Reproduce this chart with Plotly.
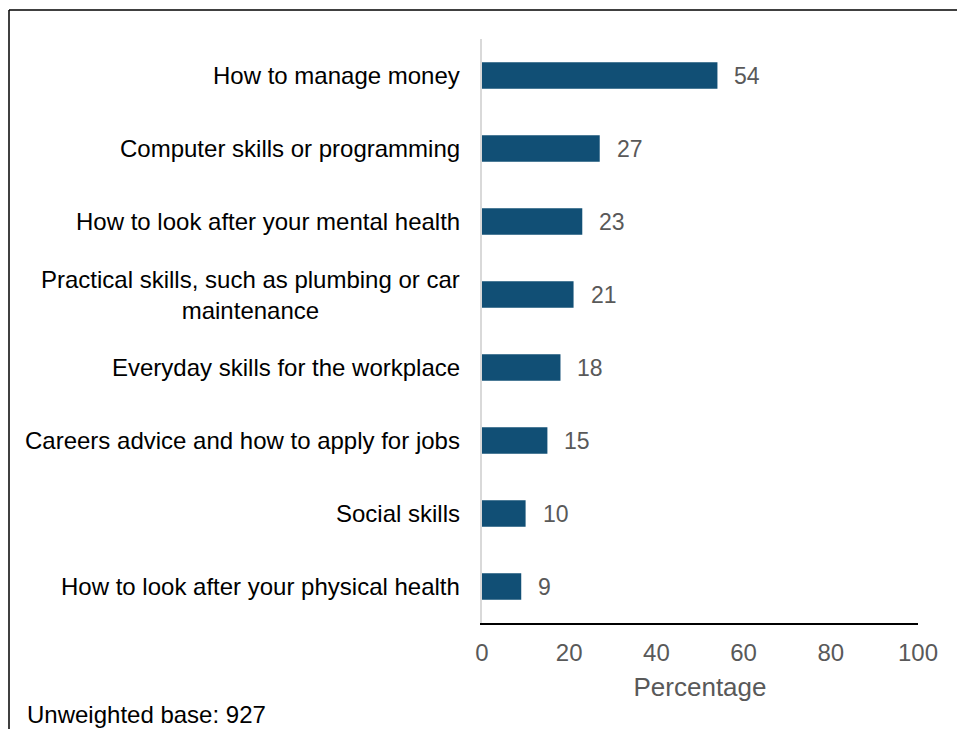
import plotly.graph_objects as go

# Survey results: skills respondents would like to learn more about
categories = [
    "How to manage money",
    "Computer skills or programming",
    "How to look after your mental health",
    "Practical skills, such as plumbing or car<br>maintenance",
    "Everyday skills for the workplace",
    "Careers advice and how to apply for jobs",
    "Social skills",
    "How to look after your physical health",
]
values = [54, 27, 23, 21, 18, 15, 10, 9]
x_ticks = [0, 20, 40, 60, 80, 100]
base_note = "Unweighted base: 927"

BAR = "#114f75"
GREY = "#595959"
FONT = "Liberation Sans, Arial, sans-serif"

# plot area in pixels
L, R, T, B = 482, 39, 39, 106
W, H = 957, 729
PW, PH = W - L - R, H - T - B

# reverse so the first category sits at the top
cats_r = categories[::-1]
vals_r = values[::-1]
pos = list(range(len(cats_r)))

fig = go.Figure(
    go.Bar(
        x=vals_r,
        y=pos,
        orientation="h",
        width=0.36,
        marker=dict(color=BAR, line=dict(width=0)),
        hoverinfo="skip",
    )
)

# category labels (centered multi-line text, right-aligned to the axis)
for p, c in zip(pos, cats_r):
    fig.add_annotation(
        x=0, xref="paper", y=p, yref="y",
        text=c, showarrow=False,
        xanchor="right", yanchor="middle", align="center",
        xshift=-20,
        font=dict(family=FONT, size=24, color="#000000"),
    )

# value labels at the bar ends
for p, v in zip(pos, vals_r):
    fig.add_annotation(
        x=v, xref="x", y=p, yref="y",
        text=str(v), showarrow=False,
        xanchor="left", yanchor="middle",
        xshift=15,
        font=dict(family=FONT, size=23, color=GREY),
    )

fig.update_layout(
    width=W,
    height=H,
    margin=dict(l=L, r=R, t=T, b=B),
    paper_bgcolor="white",
    plot_bgcolor="white",
    showlegend=False,
    bargap=0.64,
    xaxis=dict(
        range=[0, 100],
        tickvals=x_ticks,
        ticktext=[str(t) for t in x_ticks],
        showgrid=False,
        zeroline=False,
        showline=True,
        linecolor="#000000",
        linewidth=2,
        ticks="",
        ticklabelstandoff=7,
        tickfont=dict(family=FONT, size=24, color=GREY),
        title=dict(text="Percentage", font=dict(family=FONT, size=26, color=GREY), standoff=13),
        fixedrange=True,
    ),
    yaxis=dict(
        range=[-0.5, len(cats_r) - 0.5],
        showticklabels=False,
        showgrid=False,
        zeroline=False,
        showline=True,
        linecolor="#d9d9d9",
        linewidth=2,
        ticks="",
        fixedrange=True,
    ),
)

# footnote
fig.add_annotation(
    x=(25 - L) / PW, xref="paper",
    y=(H - B - 730) / PH, yref="paper",
    text=base_note, showarrow=False,
    xanchor="left", yanchor="bottom",
    font=dict(family=FONT, size=24, color="#000000"),
)

# outer frame (top and left edges visible)
fx = (9 - L) / PW
fy = (H - B - 10) / PH
fig.add_shape(type="line", xref="paper", yref="paper",
              x0=fx, x1=1.2, y0=fy, y1=fy,
              line=dict(color="#000000", width=1.5))
fig.add_shape(type="line", xref="paper", yref="paper",
              x0=fx, x1=fx, y0=fy, y1=-0.3,
              line=dict(color="#000000", width=1.5))

fig.write_html("out.html", config={"displayModeBar": False})
